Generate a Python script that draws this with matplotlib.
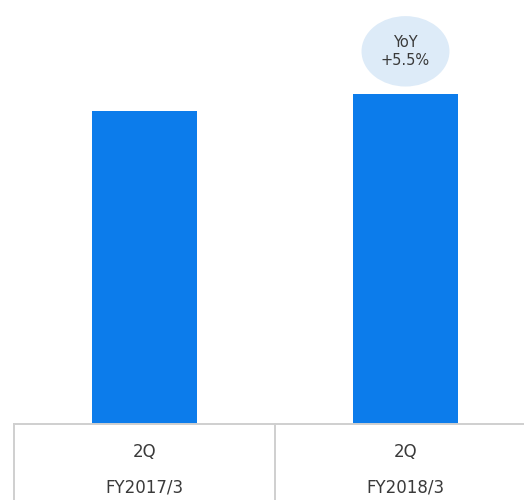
import matplotlib.pyplot as plt
from matplotlib.patches import Ellipse

# Quarterly figures (FY2017/3 indexed to 100)
quarters = ["2Q", "2Q"]
fiscal_years = ["FY2017/3", "FY2018/3"]
values = [100.0, 105.5]
yoy_label = "YoY\n+5.5%"

W, H = 524, 500
fig = plt.figure(figsize=(W / 100, H / 100), dpi=100)
ax = fig.add_axes([14 / W, 76 / H, 522 / W, 424 / H])

bar_color = "#0C7CEB"
grid_color = "#CFCFCF"
text_color = "#3A3A3A"

x = list(range(len(values)))
ax.bar(x, values, width=0.4, color=bar_color, zorder=2)
ax.set_xlim(-0.5, len(values) - 0.5)
ax.set_ylim(0, 135.5)
ax.axis("off")

# Table-like category area under the bars
ax.axhline(0, color=grid_color, lw=1.4, zorder=3, clip_on=False)
for xi in x:
    ax.plot([xi - 0.5, xi - 0.5], [0, -30], color=grid_color, lw=1.4,
            clip_on=False, zorder=3)
trans = ax.get_xaxis_transform()
for xi, q, fy in zip(x, quarters, fiscal_years):
    ax.text(xi, -28 / 424, q, transform=trans, ha="center", va="center",
            fontsize=12, color=text_color, family="DejaVu Sans")
    ax.text(xi, -63 / 424, fy, transform=trans, ha="center", va="center",
            fontsize=12, color=text_color, family="DejaVu Sans")

# Year-over-year bubble above the latest bar
bx, by = x[-1], values[-1] + 13.6
ax.add_patch(Ellipse((bx, by), width=0.337, height=22.5, facecolor="#DDEBF8",
                     edgecolor="none", zorder=3, clip_on=False))
ax.text(bx, by, yoy_label, ha="center", va="center", fontsize=10.5,
        color=text_color, linespacing=1.3, zorder=4, family="DejaVu Sans")

fig.savefig("out.png", dpi=100, facecolor="white")
